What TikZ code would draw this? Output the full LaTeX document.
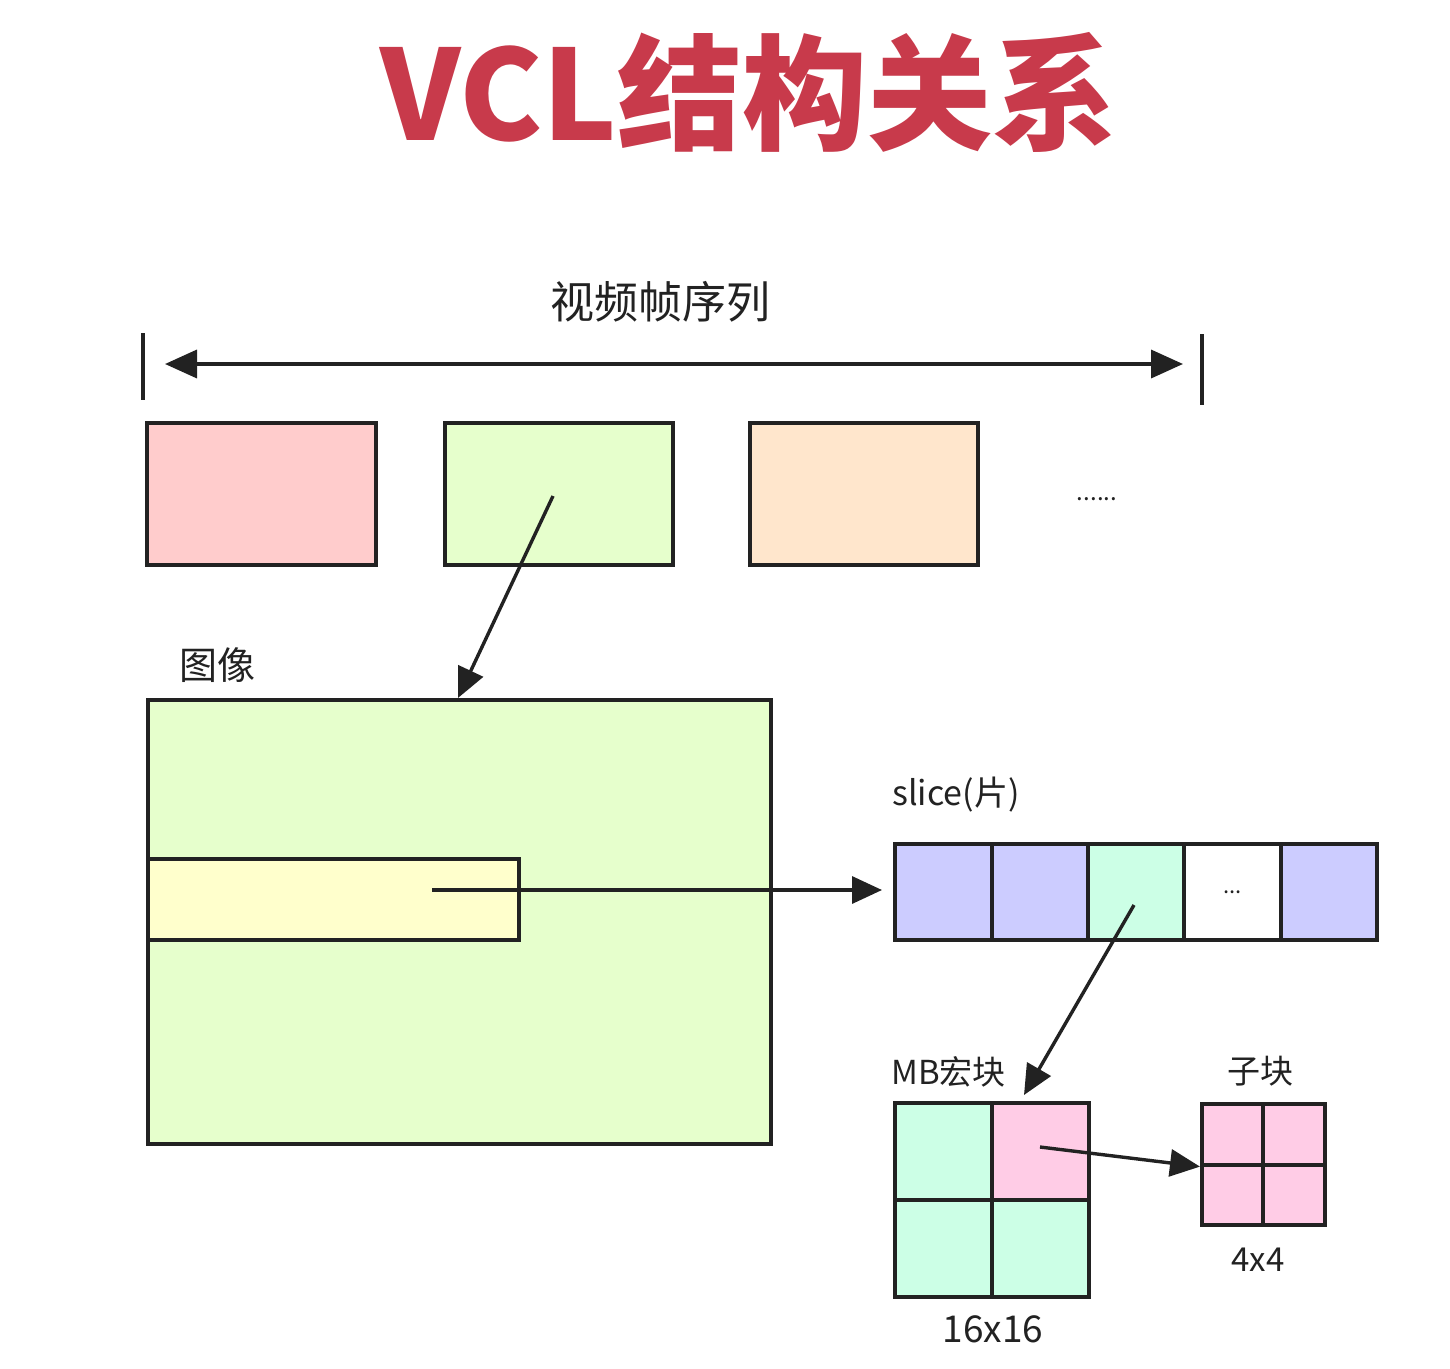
\documentclass[tikz,border=0pt]{standalone}
\usepackage{fontspec}
\setmainfont{Noto Sans CJK SC}
\newfontfamily\cjk{Noto Sans CJK SC}
\usetikzlibrary{arrows.meta}
\definecolor{titlered}{RGB}{200,58,75}
\definecolor{fpink}{HTML}{FFCCCC}
\definecolor{fgreen}{HTML}{E6FFCC}
\definecolor{forange}{HTML}{FFE6CC}
\definecolor{fyellow}{HTML}{FFFFCC}
\definecolor{fblue}{HTML}{CCCCFF}
\definecolor{fmint}{HTML}{CCFFE6}
\definecolor{fmag}{HTML}{FFCCE6}
\definecolor{ink}{HTML}{222222}
\definecolor{txt}{HTML}{222222}
\tikzset{
  box/.style={draw=ink, line width=3.6pt, inner sep=0pt, anchor=north west},
  arr/.style={draw=ink, line width=3.4pt, -{Triangle[length=30pt,width=27pt]}},
  lbl/.style={text=txt, inner sep=0pt},
}
\begin{document}
\begin{tikzpicture}[x=1pt,y=-1pt]
\useasboundingbox[fill=white] (0,0) rectangle (1450,1368);
% title
\node[text=titlered, inner sep=0pt, font=\fontsize{125}{130}\selectfont\bfseries] (title) at (749,92) {VCL结构关系};
% sequence label and range arrow
\node[lbl, font=\fontsize{44}{48}\selectfont] (seqlbl) at (660,302) {视频帧序列};
\coordinate (tl1) at (143,333);
\coordinate (tl2) at (143,400);
\coordinate (tr1) at (1202,334);
\coordinate (tr2) at (1202,405);
\draw[ink, line width=3.6pt] (tl1) -- (tl2);
\draw[ink, line width=3.6pt] (tr1) -- (tr2);
\coordinate (ra) at (165,364);
\coordinate (rb) at (1183,364);
\draw[ink, line width=3.6pt, {Triangle[length=32pt,width=28pt]}-{Triangle[length=32pt,width=28pt]}] (ra) -- (rb);
% frames
\node[box, fill=fpink, minimum width=229pt, minimum height=142pt] (f1) at (145,421) {};
\node[box, fill=fgreen, minimum width=228pt, minimum height=142pt] (f2) at (443,421) {};
\node[box, fill=forange, minimum width=228pt, minimum height=142pt] (f3) at (748,421) {};
\node[lbl, font=\fontsize{24}{26}\selectfont] (dots) at (1097,499) {......};
% image
\node[lbl, font=\fontsize{38}{41}\selectfont, anchor=west] (imglbl) at (179,665) {图像};
\node[box, fill=fgreen, minimum width=623pt, minimum height=444pt] (img) at (146,698) {};
\node[box, fill=fyellow, minimum width=371pt, minimum height=81pt] (strip) at (146,857) {};
\coordinate (a1s) at (553,496);
\coordinate (a1e) at (458,698);
\draw[arr] (a1s) -- (a1e);
% slice
\node[lbl, font=\fontsize{34}{37}\selectfont, anchor=west] (slicelbl) at (892,795) {slice(片)};
\node[box, fill=fblue, minimum width=97pt, minimum height=96pt] (s1) at (893,842) {};
\node[box, fill=fblue, minimum width=96pt, minimum height=96pt] (s2) at (990,842) {};
\node[box, fill=fmint, minimum width=96pt, minimum height=96pt] (s3) at (1086,842) {};
\node[box, fill=white, minimum width=97pt, minimum height=96pt] (s4) at (1182,842) {};
\node[box, fill=fblue, minimum width=96pt, minimum height=96pt] (s5) at (1279,842) {};
\node[lbl, font=\fontsize{22}{24}\selectfont] (sdots) at (s4.center) {...};
\coordinate (a2s) at (432,890);
\coordinate (a2e) at (882,890);
\draw[arr] (a2s) -- (a2e);
% macroblock
\node[lbl, font=\fontsize{33}{36}\selectfont, anchor=west] (mblbl) at (891,1072) {MB宏块};
\node[box, fill=fmint, minimum width=97pt, minimum height=97pt] (m1) at (893,1101) {};
\node[box, fill=fmag, minimum width=97pt, minimum height=97pt] (m2) at (990,1101) {};
\node[box, fill=fmint, minimum width=97pt, minimum height=97pt] (m3) at (893,1198) {};
\node[box, fill=fmint, minimum width=97pt, minimum height=97pt] (m4) at (990,1198) {};
\node[lbl, font=\fontsize{37}{40}\selectfont] (mbsize) at (993,1329) {16x16};
\coordinate (a3s) at (1134,905);
\coordinate (a3e) at (1024,1095);
\draw[arr] (a3s) -- (a3e);
% sub-block
\node[lbl, font=\fontsize{33}{36}\selectfont] (sblbl) at (1260,1071) {子块};
\node[box, fill=fmag, minimum width=61pt, minimum height=61pt] (b1) at (1200,1102) {};
\node[box, fill=fmag, minimum width=62pt, minimum height=61pt] (b2) at (1261,1102) {};
\node[box, fill=fmag, minimum width=61pt, minimum height=60pt] (b3) at (1200,1163) {};
\node[box, fill=fmag, minimum width=62pt, minimum height=60pt] (b4) at (1261,1163) {};
\node[lbl, font=\fontsize{33}{36}\selectfont] (sbsize) at (1258,1260) {4x4};
\coordinate (a4s) at (1040,1147);
\draw[arr] (a4s) -- (b1.south west);
\end{tikzpicture}
\end{document}
